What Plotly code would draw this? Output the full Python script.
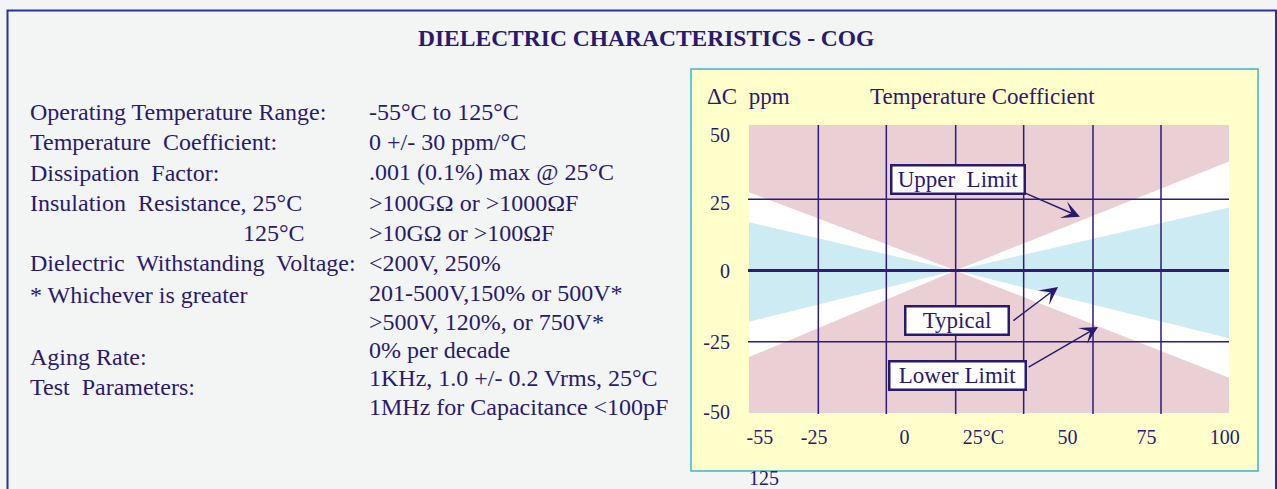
import plotly.graph_objects as go

# ---------------- data ----------------
temps = [-55, 22.5, 125]                 # deg C (apex where all bands meet)
upper_limit = [27.4, 0, 38.2]            # ppm
typical_upper = [16.9, 0, 22.1]
typical_lower = [-18.0, 0, -23.8]
lower_limit = [-30.4, 0, -37.6]

x_grid = [-29, -3.5, 22.5, 48, 74, 99.5]
y_grid = [25, 0, -25]

x_tick_pos = [-50.9, -30.6, 3.3, 32.9, 64.4, 94.1, 123.4]
x_tick_text = ["-55", "-25", "0", "25°C", "50", "75", "100"]
y_tick_pos = [47.5, 23.8, -0.3, -25.1, -49.6]
y_tick_text = ["50", "25", "0", "-25", "-50"]

spec_labels = ["Operating Temperature Range:", "Temperature  Coefficient:", "Dissipation  Factor:",
               "Insulation  Resistance, 25°C", "125°C", "Dielectric  Withstanding  Voltage:",
               "* Whichever is greater", "Aging Rate:", "Test  Parameters:"]
spec_values = ["-55°C to 125°C", "0 +/- 30 ppm/°C", ".001 (0.1%) max @ 25°C",
               ">100GΩ or >1000ΩF", ">10GΩ or >100ΩF", "<200V, 250%",
               "201-500V,150% or 500V*", ">500V, 120%, or 750V*", "0% per decade",
               "1KHz, 1.0 +/- 0.2 Vrms, 25°C", "1MHz for Capacitance <100pF"]

box_labels = ["Upper  Limit", "Typical", "Lower Limit"]
box_pos_x = [23.4, 23.0, 23.2]
box_pos_y = [32.0, -17.5, -36.7]
arrow_tip_x = [69.1, 60.9, 75.9]
arrow_tip_y = [18.8, -5.8, -19.8]
arrow_tail_x = [47.4, 43.6, 49.3]
arrow_tail_y = [27.6, -18.0, -34.2]

# ---------------- styling / layout helpers ----------------
W, H = 1277, 489
PL, PR, PT, PB = 749, 1229, 125, 413
INK = "#2a1a6e"
GRID = "#2e1b78"
FONT = "Liberation Serif, Times New Roman, serif"


def px(xp):
    return (xp - PL) / (PR - PL)


def py(yp):
    return (PB - yp) / (PB - PT)


fig = go.Figure()

fig.add_trace(go.Scatter(
    x=temps + temps[::-1], y=upper_limit + lower_limit[::-1],
    fill="toself", fillcolor="#ffffff", mode="lines", line=dict(width=0, color="#ffffff"),
    hoverinfo="skip", showlegend=False))
fig.add_trace(go.Scatter(
    x=temps + temps[::-1], y=typical_upper + typical_lower[::-1],
    fill="toself", fillcolor="#cdebf2", mode="lines", line=dict(width=0, color="#cdebf2"),
    hoverinfo="skip", showlegend=False))
fig.add_trace(go.Scatter(
    x=[temps[0], temps[-1]], y=[-50, 51], xaxis="x2", yaxis="y2", mode="markers",
    marker=dict(opacity=0), hoverinfo="skip", showlegend=False))

shapes = []
# page frame
shapes.append(dict(type="path", xref="paper", yref="paper",
                   path=f"M {px(7.5)},{py(495)} L {px(7.5)},{py(10.5)} L {px(1276)},{py(10.5)} L {px(1276)},{py(495)}",
                   line=dict(color="#2b30a0", width=2), layer="below"))
# yellow chart panel
shapes.append(dict(type="rect", xref="paper", yref="paper",
                   x0=px(691), x1=px(1258), y0=py(471), y1=py(69),
                   fillcolor="#ffffcc", line=dict(color="#3cb4d2", width=1.5), layer="below"))
# pink plot background
shapes.append(dict(type="rect", xref="paper", yref="paper", x0=0, x1=1, y0=0, y1=1,
                   fillcolor="#ead0d5", line=dict(width=0), layer="below"))
# grid lines above fills
for xg in x_grid:
    shapes.append(dict(type="line", xref="x", yref="paper", x0=xg, x1=xg, y0=py(414), y1=1,
                       line=dict(color=GRID, width=1.5), layer="above"))
for yg in y_grid:
    shapes.append(dict(type="line", xref="paper", yref="y", x0=px(748), x1=1, y0=yg, y1=yg,
                       line=dict(color=GRID, width=3 if yg == 0 else 1.5), layer="above"))

ann = []
ann.append(dict(text="<b>DIELECTRIC CHARACTERISTICS - COG</b>", xref="paper", yref="paper",
                x=px(646), y=py(38), xanchor="center", yanchor="middle", showarrow=False,
                font=dict(family=FONT, size=23.5, color=INK)))

label_y = [112, 142, 173, 203, 233, 263, 295, 357, 387]
label_x = [28, 28, 28, 28, 241, 28, 28, 28, 28]
for t, xx, yy in zip(spec_labels, label_x, label_y):
    ann.append(dict(text=t, xref="paper", yref="paper", x=px(xx), y=py(yy),
                    xanchor="left", yanchor="middle", showarrow=False,
                    font=dict(family=FONT, size=24, color=INK)))
value_y = [112, 142, 172, 203, 233, 263, 293, 322, 350, 378, 407]
for t, yy in zip(spec_values, value_y):
    ann.append(dict(text=t, xref="paper", yref="paper", x=px(367), y=py(yy),
                    xanchor="left", yanchor="middle", showarrow=False,
                    font=dict(family=FONT, size=24, color=INK)))

ann.append(dict(text="ΔC  ppm", xref="paper", yref="paper", x=px(705), y=py(96),
                xanchor="left", yanchor="middle", showarrow=False,
                font=dict(family=FONT, size=23, color=INK)))
ann.append(dict(text="Temperature Coefficient", xref="paper", yref="paper", x=px(868), y=py(96),
                xanchor="left", yanchor="middle", showarrow=False,
                font=dict(family=FONT, size=23, color=INK)))
ann.append(dict(text="125", xref="paper", yref="paper", x=px(764), y=py(478),
                xanchor="center", yanchor="middle", showarrow=False,
                font=dict(family=FONT, size=20, color=INK)))

# arrows first, boxes on top
for tx, ty, ax, ay in zip(arrow_tip_x, arrow_tip_y, arrow_tail_x, arrow_tail_y):
    ann.append(dict(text="", x=tx, y=ty, xref="x", yref="y", ax=ax, ay=ay, axref="x", ayref="y",
                    showarrow=True, arrowhead=3, arrowsize=2, arrowwidth=1.5, arrowcolor=INK,
                    standoff=0, startstandoff=0))
box_w = [131, 101, 134]
for t, bx, by, bw in zip(box_labels, box_pos_x, box_pos_y, box_w):
    ann.append(dict(text=t, x=bx, y=by, xref="x", yref="y", showarrow=False,
                    xanchor="center", yanchor="middle", width=bw, height=26, align="center",
                    bgcolor="#ffffff", bordercolor=INK, borderwidth=2.5, borderpad=0,
                    font=dict(family=FONT, size=23, color=INK)))

fig.update_layout(
    width=W, height=H, autosize=False,
    margin=dict(l=PL, r=W - PR, t=PT, b=H - PB, pad=0),
    paper_bgcolor="#f3f4f4", plot_bgcolor="rgba(0,0,0,0)",
    shapes=shapes, annotations=ann, showlegend=False,
    xaxis=dict(range=[-55, 125], showgrid=False, zeroline=False, showticklabels=False,
               showline=False, ticks="", fixedrange=True),
    yaxis=dict(range=[-50, 51], showgrid=False, zeroline=False, showticklabels=False,
               showline=False, ticks="", fixedrange=True),
    xaxis2=dict(range=[-55, 125], overlaying="x", side="bottom", anchor="y2",
                tickvals=x_tick_pos, ticktext=x_tick_text, showgrid=False, zeroline=False,
                showline=False, ticks="outside", ticklen=6, tickcolor="rgba(0,0,0,0)",
                tickfont=dict(family=FONT, size=20, color=INK), fixedrange=True),
    yaxis2=dict(range=[-50, 51], overlaying="y", side="left", anchor="x2",
                tickvals=y_tick_pos, ticktext=y_tick_text, showgrid=False, zeroline=False,
                showline=False, ticks="outside", ticklen=14, tickcolor="rgba(0,0,0,0)",
                tickfont=dict(family=FONT, size=20, color=INK), fixedrange=True),
)

fig.write_html("out.html", config={"displayModeBar": False},
               post_script="document.body.style.margin='0';document.body.style.overflow='hidden';")
